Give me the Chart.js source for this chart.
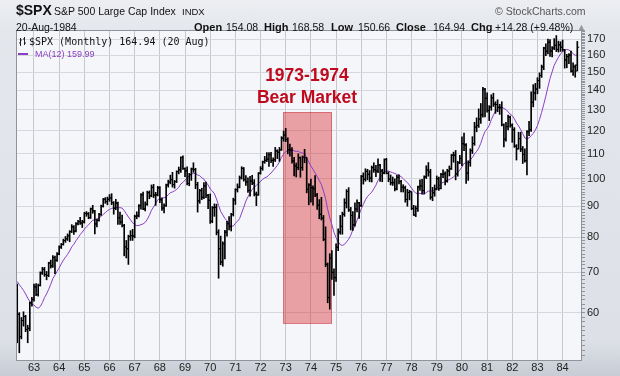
<!DOCTYPE html>
<html>
<head>
<meta charset="utf-8">
<script src="https://cdn.jsdelivr.net/npm/chart.js@4/dist/chart.umd.min.js"></script>
<style>
  html, body { margin: 0; padding: 0; background: #fff; }
  #wrap {
    position: relative; width: 620px; height: 376px; overflow: hidden;
    background: linear-gradient(to bottom, #eceef2 0px, #e4e7ec 30px, #dde1e7 340px, #c7ccd5 376px);
    font-family: "Liberation Sans", Arial, sans-serif; color: #111;
  }
  #spx { position: absolute; left: 0; top: 0; }
  .t { position: absolute; white-space: nowrap; line-height: 1; }
  .b { font-weight: bold; }
  .bear { position: absolute; left: 207px; width: 200px; text-align: center; font-weight: bold;
          font-size: 17.5px; line-height: 1; color: #bf0a1e; }
</style>
</head>
<body>
<div id="wrap">
  <canvas id="spx" width="620" height="376"></canvas>

  <div class="t b" style="left:16px;top:3px;font-size:14px;">$SPX</div>
  <div class="t" style="left:54px;top:6px;font-size:10.5px;">S&amp;P 500 Large Cap Index</div>
  <div class="t" style="left:182px;top:7px;font-size:9.5px;">INDX</div>
  <div class="t" style="left:495px;top:6px;font-size:10.5px;color:#555;">&copy; StockCharts.com</div>

  <div class="t" style="left:16px;top:22px;font-size:10.5px;">20-Aug-1984</div>
  <div class="t b" style="left:194px;top:22px;font-size:11px;">Open</div>
  <div class="t" style="left:226px;top:22px;font-size:10.5px;">154.08</div>
  <div class="t b" style="left:264px;top:22px;font-size:11px;">High</div>
  <div class="t" style="left:292px;top:22px;font-size:10.5px;">168.58</div>
  <div class="t b" style="left:331px;top:22px;font-size:11px;">Low</div>
  <div class="t" style="left:358px;top:22px;font-size:10.5px;">150.66</div>
  <div class="t b" style="left:396px;top:22px;font-size:11px;">Close</div>
  <div class="t" style="left:433px;top:22px;font-size:10.5px;">164.94</div>
  <div class="t b" style="left:471px;top:22px;font-size:11px;">Chg</div>
  <div class="t" style="left:495px;top:22px;font-size:10.5px;">+14.28 (+9.48%)</div>
  <div class="t" style="left:577px;top:23px;font-size:9px;color:#999;">&#9650;</div>

  <svg style="position:absolute;left:18px;top:37px;" width="10" height="10">
    <path d="M2.5 1V9 M1 6H2.5 M2.5 3H4 M6.5 0V8 M5 2H6.5 M6.5 6H8" stroke="#222" stroke-width="1" fill="none"/>
  </svg>
  <div class="t" style="left:29px;top:37px;font-size:10px;font-family:'DejaVu Sans Mono',monospace;">$SPX (Monthly) 164.94 (20 Aug)</div>
  <div style="position:absolute;left:18px;top:53px;width:10px;height:2px;background:#8a3ec4;"></div>
  <div class="t" style="left:35px;top:50px;font-size:9px;color:#8a3ec4;">MA(12) 159.99</div>

  <div class="bear" style="top:67px;">1973-1974</div>
  <div class="bear" style="top:88.5px;">Bear Market</div>
</div>

<script>
// S&P 500 monthly bars, May 1962 .. Aug 1984 (one value per month)
const startYear = 1962;
const startMonth = 4; // May

const opens = [
  65.24, 59.63, 54.75, 58.23, 59.12, 56.27, 56.52, 62.26,
  63.10, 66.20, 64.29, 66.57, 69.80, 70.80, 69.37, 69.13, 72.50, 71.70, 74.01, 73.23,
  75.02, 77.04, 77.80, 78.98, 79.46, 80.37, 81.69, 83.18, 81.83, 84.18, 84.86, 84.42,
  84.75, 87.56, 87.43, 86.16, 89.11, 88.42, 84.12, 85.25, 87.17, 89.96, 92.42, 91.61,
  92.43, 92.88, 91.22, 89.23, 91.06, 86.13, 84.74, 83.60, 77.10, 76.56, 80.20, 80.45,
  80.33, 86.61, 86.78, 90.20, 94.01, 89.08, 90.64, 94.75, 93.64, 96.71, 93.90, 94.00,
  96.47, 92.24, 89.36, 90.20, 97.59, 98.68, 99.58, 97.74, 98.86, 102.67, 103.41, 108.37,
  103.86, 103.01, 98.13, 101.51, 103.69, 103.46, 97.71, 91.83, 95.51, 93.12, 97.24, 93.81,
  92.06, 85.02, 89.50, 89.63, 81.52, 76.55, 72.72, 78.05, 81.52, 84.21, 83.25, 87.20,
  92.15, 95.88, 96.75, 100.31, 103.95, 99.63, 98.70, 95.58, 99.03, 98.34, 94.23, 93.99,
  102.09, 103.94, 106.57, 107.20, 107.67, 109.53, 107.14, 107.39, 111.09, 110.55, 111.58, 116.67,
  118.05, 116.03, 111.68, 111.52, 106.97, 104.95, 104.26, 108.22, 104.25, 108.43, 108.29, 95.96,
  97.55, 96.57, 96.22, 93.98, 90.31, 87.28, 86.00, 79.31, 72.15, 63.54, 73.90, 69.97,
  68.56, 76.98, 81.59, 83.36, 87.30, 91.15, 95.19, 88.75, 86.88, 83.87, 89.04, 91.24,
  90.19, 100.86, 99.71, 102.77, 101.64, 100.18, 104.28, 103.44, 102.91, 105.24, 102.90, 102.10,
  107.46, 102.03, 99.82, 98.42, 98.44, 96.12, 100.48, 98.85, 96.77, 96.53, 92.34, 94.83,
  95.10, 89.25, 87.04, 89.21, 96.83, 97.24, 95.53, 100.68, 103.29, 102.54, 93.15, 94.70,
  96.11, 99.93, 96.28, 101.59, 101.76, 99.08, 102.91, 103.81, 109.32, 109.32, 101.82, 106.16,
  107.94, 114.16, 113.66, 102.09, 106.29, 111.24, 114.24, 121.67, 122.38, 125.46, 127.47, 140.52,
  135.76, 129.55, 131.27, 136.00, 132.81, 132.59, 131.21, 130.92, 122.79, 116.18, 121.89, 126.35,
  122.55, 120.40, 113.11, 111.96, 116.44, 111.88, 109.61, 107.09, 119.51, 120.42, 133.71, 138.54,
  140.64, 145.30, 148.06, 152.96, 164.42, 162.39, 168.11, 162.56, 164.40, 166.07, 163.55, 166.40,
  164.93, 163.41, 157.06, 159.18, 160.05, 150.55, 153.18, 154.08
];

const highs = [
  66.9, 60.0, 58.9, 60.2, 59.4, 57.2, 62.5, 63.6,
  66.9, 67.0, 66.9, 70.1, 71.3, 71.3, 70.2, 72.7, 73.3, 74.6, 74.4, 75.4,
  77.4, 78.1, 79.4, 80.2, 81.0, 82.0, 83.9, 83.6, 84.6, 85.3, 86.3, 85.3,
  87.9, 88.2, 87.9, 89.4, 90.3, 88.6, 85.7, 87.6, 90.4, 92.7, 93.0, 93.2,
  94.1, 94.4, 91.6, 92.4, 91.4, 88.0, 87.0, 84.0, 79.0, 80.6, 82.0, 82.4,
  87.0, 88.1, 90.6, 94.4, 95.0, 91.5, 95.3, 95.4, 97.6, 97.8, 94.9, 97.1,
  97.0, 92.8, 90.8, 97.9, 99.4, 101.3, 102.4, 99.3, 103.0, 104.5, 108.6, 109.0,
  104.2, 104.6, 102.0, 104.1, 106.2, 104.0, 98.6, 96.0, 96.4, 98.5, 98.7, 94.2,
  94.3, 89.9, 90.8, 90.7, 82.3, 80.3, 78.6, 82.1, 85.0, 86.5, 87.6, 92.8,
  96.2, 98.0, 101.0, 104.6, 104.3, 101.1, 100.3, 100.9, 101.2, 99.6, 95.0, 102.3,
  104.7, 106.9, 108.8, 110.4, 110.4, 110.5, 108.2, 112.6, 111.6, 112.6, 117.3, 119.8,
  121.1, 116.8, 114.0, 112.5, 108.4, 106.1, 109.9, 108.6, 109.0, 111.8, 108.3, 98.1,
  99.8, 97.3, 101.1, 94.5, 92.3, 93.1, 86.9, 83.2, 72.5, 75.1, 76.0, 70.9,
  78.0, 82.6, 86.9, 88.0, 92.6, 95.9, 96.6, 89.6, 88.2, 91.2, 92.2, 91.3,
  101.2, 102.2, 103.8, 103.6, 103.1, 104.9, 106.2, 105.2, 107.8, 105.6, 103.6, 107.8,
  108.0, 102.6, 101.4, 100.6, 99.9, 101.2, 101.4, 99.3, 97.7, 97.2, 96.0, 95.6,
  95.1, 90.3, 90.1, 97.2, 99.5, 99.7, 101.0, 105.0, 106.3, 103.6, 96.7, 97.6,
  101.0, 100.6, 102.0, 103.4, 102.6, 103.6, 104.9, 109.6, 110.6, 111.3, 106.8, 109.3,
  117.2, 118.9, 114.3, 107.0, 112.0, 117.3, 123.9, 126.0, 130.4, 133.1, 141.6, 141.0,
  138.6, 132.0, 137.6, 138.4, 134.0, 135.0, 132.7, 134.0, 123.2, 123.9, 127.3, 126.9,
  123.2, 121.4, 113.8, 119.3, 119.3, 113.0, 112.0, 120.0, 124.3, 139.1, 143.0, 143.7,
  146.8, 149.6, 154.1, 164.9, 167.0, 170.1, 169.8, 165.3, 170.4, 172.4, 168.8, 168.4,
  169.5, 163.5, 160.5, 161.0, 162.5, 155.4, 154.1, 168.58
];

const lows = [
  53.5, 51.5, 54.3, 57.0, 55.8, 53.5, 56.0, 61.5,
  62.7, 64.0, 63.9, 66.4, 69.4, 68.9, 68.0, 68.8, 71.1, 71.3, 69.6, 72.9,
  74.8, 76.6, 77.6, 78.4, 79.0, 78.6, 81.4, 80.8, 81.6, 83.8, 84.0, 83.0,
  84.4, 86.6, 85.8, 85.9, 87.6, 81.0, 83.2, 85.0, 86.9, 89.7, 91.0, 90.5,
  91.7, 90.5, 87.3, 88.8, 84.0, 84.0, 83.2, 74.5, 73.9, 72.1, 79.0, 79.0,
  79.8, 85.8, 86.4, 89.0, 88.8, 88.4, 90.3, 92.6, 93.3, 93.0, 90.3, 93.6,
  91.2, 88.6, 87.7, 89.9, 96.8, 98.0, 96.8, 96.4, 98.5, 101.8, 102.4, 103.5,
  100.7, 97.6, 97.3, 99.3, 102.4, 96.2, 88.0, 91.0, 92.3, 92.6, 93.0, 89.2,
  84.3, 84.5, 86.6, 80.7, 68.4, 72.0, 71.6, 73.6, 80.3, 82.2, 81.9, 86.7,
  90.6, 95.0, 96.5, 99.8, 99.0, 97.4, 94.9, 93.5, 97.7, 93.6, 90.2, 93.8,
  101.7, 103.2, 106.0, 106.6, 104.7, 106.2, 104.7, 106.7, 107.9, 106.8, 111.3, 115.3,
  115.1, 109.9, 108.9, 106.0, 101.0, 100.6, 103.4, 100.5, 103.2, 106.2, 94.7, 90.5,
  91.4, 90.4, 93.3, 88.9, 85.8, 85.4, 78.9, 71.5, 62.3, 60.8, 68.1, 64.1,
  67.6, 76.0, 80.9, 80.9, 86.6, 89.4, 88.2, 82.2, 82.1, 83.4, 88.1, 85.9,
  89.9, 97.9, 99.0, 99.5, 98.8, 98.7, 102.4, 100.7, 102.3, 98.9, 98.8, 101.8,
  101.8, 98.8, 97.6, 97.4, 95.4, 95.8, 98.0, 95.0, 95.0, 91.4, 90.0, 92.2,
  88.8, 86.9, 86.5, 88.2, 95.6, 94.4, 94.3, 100.0, 100.9, 92.4, 91.9, 93.5,
  95.8, 95.6, 96.1, 100.3, 97.6, 98.6, 101.0, 103.5, 106.4, 99.5, 100.9, 105.8,
  105.0, 111.2, 98.2, 99.3, 104.8, 110.0, 113.5, 119.5, 121.5, 123.4, 126.3, 126.5,
  128.8, 124.7, 129.7, 131.6, 128.2, 129.0, 127.7, 122.2, 112.8, 115.3, 120.4, 121.6,
  114.8, 112.6, 107.3, 111.9, 110.8, 105.9, 106.4, 101.4, 117.8, 119.7, 131.4, 134.8,
  138.1, 141.0, 147.0, 151.4, 159.7, 160.7, 159.2, 159.0, 163.4, 162.2, 161.9, 162.3,
  162.4, 152.3, 152.5, 154.9, 150.0, 148.1, 147.1, 150.66
];

const closes = [
  59.63, 54.75, 58.23, 59.12, 56.27, 56.52, 62.26, 63.10,
  66.20, 64.29, 66.57, 69.80, 70.80, 69.37, 69.13, 72.50, 71.70, 74.01, 73.23, 75.02,
  77.04, 77.80, 78.98, 79.46, 80.37, 81.69, 83.18, 81.83, 84.18, 84.86, 84.42, 84.75,
  87.56, 87.43, 86.16, 89.11, 88.42, 84.12, 85.25, 87.17, 89.96, 92.42, 91.61, 92.43,
  92.88, 91.22, 89.23, 91.06, 86.13, 84.74, 83.60, 77.10, 76.56, 80.20, 80.45, 80.33,
  86.61, 86.78, 90.20, 94.01, 89.08, 90.64, 94.75, 93.64, 96.71, 93.90, 94.00, 96.47,
  92.24, 89.36, 90.20, 97.59, 98.68, 99.58, 97.74, 98.86, 102.67, 103.41, 108.37, 103.86,
  103.01, 98.13, 101.51, 103.69, 103.46, 97.71, 91.83, 95.51, 93.12, 97.24, 93.81, 92.06,
  85.02, 89.50, 89.63, 81.52, 76.55, 72.72, 78.05, 81.52, 84.21, 83.25, 87.20, 92.15,
  95.88, 96.75, 100.31, 103.95, 99.63, 98.70, 95.58, 99.03, 98.34, 94.23, 93.99, 102.09,
  103.94, 106.57, 107.20, 107.67, 109.53, 107.14, 107.39, 111.09, 110.55, 111.58, 116.67, 118.05,
  116.03, 111.68, 111.52, 106.97, 104.95, 104.26, 108.22, 104.25, 108.43, 108.29, 95.96, 97.55,
  96.57, 96.22, 93.98, 90.31, 87.28, 86.00, 79.31, 72.15, 63.54, 73.90, 69.97, 68.56,
  76.98, 81.59, 83.36, 87.30, 91.15, 95.19, 88.75, 86.88, 83.87, 89.04, 91.24, 90.19,
  100.86, 99.71, 102.77, 101.64, 100.18, 104.28, 103.44, 102.91, 105.24, 102.90, 102.10, 107.46,
  102.03, 99.82, 98.42, 98.44, 96.12, 100.48, 98.85, 96.77, 96.53, 92.34, 94.83, 95.10,
  89.25, 87.04, 89.21, 96.83, 97.24, 95.53, 100.68, 103.29, 102.54, 93.15, 94.70, 96.11,
  99.93, 96.28, 101.59, 101.76, 99.08, 102.91, 103.81, 109.32, 109.32, 101.82, 106.16, 107.94,
  114.16, 113.66, 102.09, 106.29, 111.24, 114.24, 121.67, 122.38, 125.46, 127.47, 140.52, 135.76,
  129.55, 131.27, 136.00, 132.81, 132.59, 131.21, 130.92, 122.79, 116.18, 121.89, 126.35, 122.55,
  120.40, 113.11, 111.96, 116.44, 111.88, 109.61, 107.09, 119.51, 120.42, 133.71, 138.54, 140.64,
  145.30, 148.06, 152.96, 164.42, 162.39, 168.11, 162.56, 164.40, 166.07, 163.55, 166.40, 164.93,
  163.41, 157.06, 159.18, 160.05, 150.55, 153.18, 150.66, 164.94
];

// 12-month moving average of the closes, as plotted
const ma12 = [
  67.58, 66.75, 66.04, 65.30, 64.42, 63.42, 62.66, 61.96,
  61.74, 61.26, 61.02, 61.40, 62.33, 63.54, 64.45, 65.57, 66.85, 68.31, 69.23, 70.22,
  71.12, 72.25, 73.28, 74.09, 74.88, 75.91, 77.08, 77.86, 78.90, 79.80, 80.74, 81.55,
  82.42, 83.23, 83.82, 84.63, 85.30, 85.50, 85.67, 86.12, 86.60, 87.23, 87.83, 88.47,
  88.91, 89.23, 89.49, 89.65, 89.46, 89.51, 89.37, 88.53, 87.42, 86.40, 85.47, 84.46,
  83.94, 83.57, 83.65, 83.89, 84.14, 84.63, 85.56, 86.94, 88.62, 89.76, 90.89, 92.23,
  92.70, 92.92, 92.92, 93.22, 94.02, 94.76, 95.01, 95.44, 95.94, 96.73, 97.93, 98.55,
  99.44, 100.18, 101.12, 101.63, 102.02, 101.87, 101.38, 101.10, 100.30, 99.79, 98.57, 97.59,
  96.09, 95.37, 94.38, 92.53, 90.29, 88.21, 87.06, 85.90, 85.15, 83.99, 83.44, 83.44,
  84.35, 84.95, 85.84, 87.71, 89.64, 91.80, 93.26, 94.72, 95.90, 96.81, 97.38, 98.21,
  98.88, 99.70, 100.27, 100.58, 101.41, 102.11, 103.09, 104.10, 105.12, 106.56, 108.45, 109.78,
  110.79, 111.22, 111.58, 111.52, 111.14, 110.90, 110.96, 110.39, 110.22, 109.94, 108.22, 106.51,
  104.89, 103.60, 102.14, 100.75, 99.28, 97.76, 95.35, 92.67, 88.93, 86.06, 83.90, 81.48,
  79.85, 78.63, 77.75, 77.50, 77.82, 78.58, 79.37, 80.60, 82.29, 83.55, 85.33, 87.13,
  89.12, 90.63, 92.25, 93.44, 94.19, 94.95, 96.18, 97.51, 99.29, 100.45, 101.35, 102.79,
  102.89, 102.90, 102.54, 102.27, 101.93, 101.61, 101.23, 100.72, 99.99, 99.11, 98.51, 97.48,
  96.41, 95.35, 94.58, 94.45, 94.54, 94.13, 94.28, 94.82, 95.32, 95.39, 95.38, 95.46,
  96.35, 97.12, 98.16, 98.57, 98.72, 99.34, 99.60, 100.10, 100.66, 101.39, 102.34, 103.33,
  104.51, 105.96, 106.00, 106.38, 107.39, 108.34, 109.83, 110.91, 112.26, 114.40, 117.26, 119.58,
  120.86, 122.33, 125.15, 127.36, 129.14, 130.56, 131.33, 131.36, 130.59, 130.12, 128.94, 127.84,
  127.08, 125.57, 123.56, 122.20, 120.47, 118.67, 116.69, 116.41, 116.77, 117.75, 118.77, 120.28,
  122.35, 125.26, 128.68, 132.68, 136.89, 141.76, 146.39, 150.13, 153.93, 156.42, 158.74, 160.76,
  162.27, 163.02, 163.54, 163.18, 162.19, 160.95, 159.95, 159.99
];

const yearTicks = [1963, 1964, 1965, 1966, 1967, 1968, 1969, 1970, 1971, 1972, 1973,
  1974, 1975, 1976, 1977, 1978, 1979, 1980, 1981, 1982, 1983, 1984];
const yearLabels = ['63', '64', '65', '66', '67', '68', '69', '70', '71', '72', '73',
  '74', '75', '76', '77', '78', '79', '80', '81', '82', '83', '84'];
const priceLabels = [60, 70, 80, 90, 100, 110, 120, 130, 140, 150, 160, 170];

// shaded 1973-74 bear market box (x in years, y in index points)
const bearX = [1972.91, 1974.83];
const bearY = [57.6, 128.7];

const xOf = i => startYear + (startMonth + i) / 12;
const tickOff = 0.45 / 12;

const minorTicks = [];
for (let v = 51; v <= 176; v++) minorTicks.push(v);

const plotDeco = {
  id: 'plotDeco',
  beforeDraw(chart) {
    const a = chart.chartArea, ctx = chart.ctx;
    ctx.save();
    ctx.fillStyle = '#f5f6f9';
    ctx.fillRect(a.left, a.top, a.right - a.left, a.bottom - a.top);
    ctx.restore();
  },
  beforeDatasetsDraw(chart) {
    const x = chart.scales.x, y = chart.scales.y, ctx = chart.ctx;
    const x0 = x.getPixelForValue(bearX[0]), x1 = x.getPixelForValue(bearX[1]);
    const y0 = y.getPixelForValue(bearY[1]), y1 = y.getPixelForValue(bearY[0]);
    ctx.save();
    ctx.fillStyle = 'rgba(214, 40, 50, 0.42)';
    ctx.fillRect(x0, y0, x1 - x0, y1 - y0);
    ctx.strokeStyle = 'rgba(200, 40, 50, 0.55)';
    ctx.lineWidth = 1;
    ctx.strokeRect(Math.round(x0) + 0.5, Math.round(y0) + 0.5, Math.round(x1 - x0), Math.round(y1 - y0));
    ctx.restore();
  },
  afterDraw(chart) {
    const a = chart.chartArea, ctx = chart.ctx;
    ctx.save();
    ctx.strokeStyle = '#8e939c';
    ctx.lineWidth = 1;
    ctx.strokeRect(a.left + 0.5, a.top + 0.5, a.right - a.left - 1, a.bottom - a.top);
    ctx.restore();
  }
};

new Chart(document.getElementById('spx').getContext('2d'), {
  data: {
    datasets: [
      {
        type: 'line',
        label: 'MA(12)',
        data: ma12.map((v, i) => ({ x: xOf(i), y: v })),
        borderColor: '#8a3ec4',
        borderWidth: 1,
        pointRadius: 0,
        order: 3
      },
      {
        type: 'bar',
        label: 'High-Low',
        data: highs.map((h, i) => ({ x: xOf(i), y: [lows[i], h] })),
        backgroundColor: '#000',
        borderWidth: 0,
        barThickness: 1,
        grouped: false,
        order: 2
      },
      {
        type: 'scatter',
        label: 'Open',
        data: opens.map((v, i) => ({ x: xOf(i) - tickOff, y: v })),
        pointStyle: 'line',
        pointRadius: 1,
        borderColor: '#000',
        borderWidth: 1,
        order: 1
      },
      {
        type: 'scatter',
        label: 'Close',
        data: closes.map((v, i) => ({ x: xOf(i) + tickOff, y: v })),
        pointStyle: 'line',
        pointRadius: 1,
        borderColor: '#000',
        borderWidth: 1,
        order: 1
      }
    ]
  },
  options: {
    responsive: false,
    animation: false,
    devicePixelRatio: 1,
    events: [],
    layout: { padding: { top: 30, left: 16, right: 0, bottom: 0 } },
    plugins: { legend: { display: false }, tooltip: { enabled: false } },
    scales: {
      x: {
        type: 'linear',
        offset: false,
        min: 1962.285,
        max: 1984.77,
        afterBuildTicks: s => { s.ticks = yearTicks.map(v => ({ value: v })); },
        afterFit: s => { s.height = 16; s.paddingLeft = 0; s.paddingRight = 0; },
        grid: { color: '#c5c8ce', drawTicks: false, offset: false },
        border: { display: false },
        ticks: {
          autoSkip: false,
          maxRotation: 0,
          padding: 1,
          color: '#222',
          font: { family: '"Liberation Sans", Arial, sans-serif', size: 11 },
          callback: v => yearLabels[yearTicks.indexOf(v)]
        }
      },
      y: {
        type: 'logarithmic',
        position: 'right',
        min: 50.1,
        max: 176.1,
        afterBuildTicks: s => { s.ticks = minorTicks.map(v => ({ value: v })); },
        afterFit: s => { s.width = 38; s.paddingTop = 0; s.paddingBottom = 0; },
        grid: {
          color: c => (c.tick && priceLabels.includes(c.tick.value)) ? '#d5d8de' : 'rgba(0,0,0,0)',
          tickColor: '#8e939c',
          tickLength: 3
        },
        border: { display: false },
        ticks: {
          autoSkip: false,
          padding: 2,
          color: '#222',
          font: { family: '"Liberation Sans", Arial, sans-serif', size: 11 },
          callback: v => priceLabels.includes(v) ? String(v) : ''
        }
      }
    }
  },
  plugins: [plotDeco]
});
</script>
</body>
</html>
